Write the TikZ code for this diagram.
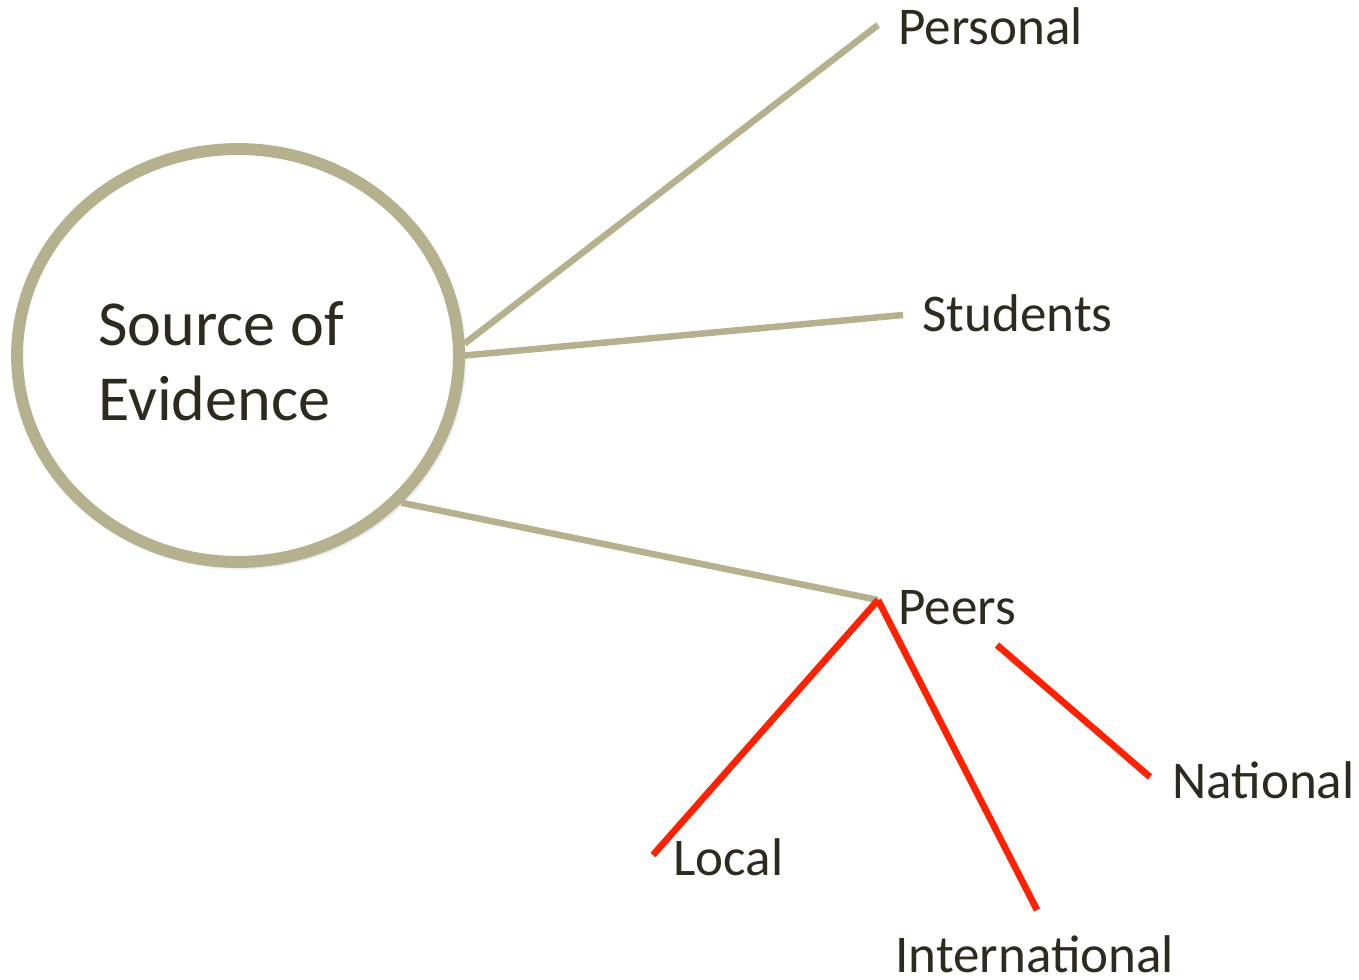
\documentclass[tikz,border=0pt]{standalone}
\usepackage{fontspec}
\setmainfont{Carlito}
\usetikzlibrary{shapes.geometric,shadows.blur}
\definecolor{sand}{RGB}{181,176,142}
\definecolor{alert}{RGB}{255,34,0}
\definecolor{ink}{RGB}{45,42,32}
\begin{document}
\begin{tikzpicture}[x=0.02cm, y=-0.02cm, line join=round,
	lbl/.style={inner sep=0pt, anchor=base west, text=ink, font=\fontsize{30.2}{34}\selectfont},
	branch/.style={draw=sand, line width=3.7pt},
	sub/.style={draw=alert, line width=3.8pt}]
	\useasboundingbox (0,0) rectangle (1359,980);
	\node[ellipse, draw=sand, line width=6.8pt, fill=white, minimum width=8.84cm, minimum height=8.26cm, inner sep=0pt,
		blur shadow={shadow xshift=0.05cm, shadow yshift=-0.05cm, shadow blur radius=0.12cm, shadow opacity=45}] (src) at (238,355.5) {};
	\node[anchor=west, inner sep=0pt, align=left, text=ink, font=\fontsize{36.5}{42.7}\selectfont] (srclabel) at (98,361) {Source of\\Evidence};
	% ends of the connectors
	\coordinate (pe) at (878,25);
	\coordinate (se) at (903,315);
	\coordinate (pk) at (878,600);
	\coordinate (le) at (653,855);
	\coordinate (ie) at (1037,910);
	\coordinate (na) at (997,645);
	\coordinate (nb) at (1150,777);
	\foreach \a/\e in {3/pe, 0/se, -42/pk}{
		\draw[branch] (src.\a) -- (\e);%olive
	}
	\node[lbl] (personal) at (898,45) {Personal};
	\node[lbl] (students) at (922,331) {Students};
	\node[lbl] (peers) at (898,624) {Peers};
	\node[lbl] (local) at (673,875) {Local};
	\node[lbl] (intl) at (895,972) {International};
	\node[lbl] (national) at (1172,798) {National};
	\foreach \e in {le, ie}{
		\draw[sub] (pk) -- (\e);%red
	}
	\draw[sub] (na) -- (nb);
\end{tikzpicture}
\end{document}
